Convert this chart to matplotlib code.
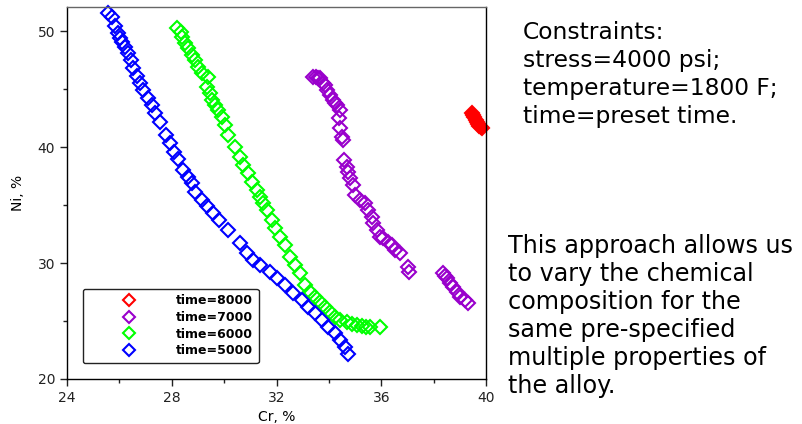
import numpy as np
import matplotlib
matplotlib.use("Agg")
import matplotlib.pyplot as plt

# Cr / Ni compositions satisfying the same property targets for each preset time
cr_8000 = [39.45, 39.50, 39.55, 39.60, 39.65, 39.70, 39.75, 39.80, 39.85]
ni_8000 = [42.95, 42.75, 42.55, 42.35, 42.15, 41.95, 41.80, 41.70, 41.60]

cr_7000 = [33.39, 33.50, 33.60, 33.66, 33.77, 33.85, 33.93, 34.04, 34.16, 34.23,
           34.31, 34.42, 34.39, 34.42, 34.50, 34.54,
           34.58, 34.69, 34.73, 34.81, 34.92, 35.00, 35.19, 35.38, 35.49, 35.65,
           35.68, 35.84, 35.95, 36.07, 36.26, 36.41, 36.52, 36.71, 37.02, 37.06,
           38.36, 38.45, 38.51, 38.62, 38.74, 38.89, 39.01, 39.20, 39.31]
ni_7000 = [46.03, 46.05, 45.98, 45.95, 45.52, 45.34, 44.91, 44.48, 44.05, 43.79,
           43.62, 43.19, 42.50, 41.64, 40.86, 40.60,
           38.88, 38.28, 37.84, 37.33, 36.72, 35.86, 35.43, 35.17, 34.57, 33.97,
           33.45, 32.84, 32.24, 32.16, 31.81, 31.55, 31.12, 30.86, 29.66, 29.22,
           29.14, 28.90, 28.71, 28.28, 27.93, 27.50, 27.07, 26.81, 26.55]

cr_6000 = [28.20, 28.35, 28.39, 28.51, 28.62, 28.77, 28.89, 29.00, 29.15, 29.38,
           29.35, 29.46, 29.54, 29.65, 29.77, 29.92, 30.03, 30.15, 30.41, 30.61,
           30.72, 30.91, 31.06, 31.25, 31.37, 31.48, 31.64, 31.83, 31.94, 32.13,
           32.32, 32.51, 32.71, 32.90, 33.09, 33.28, 33.47, 33.66, 33.85, 34.04,
           34.23, 34.42, 34.69, 34.88, 35.07, 35.26, 35.42, 35.57, 35.95]
ni_6000 = [50.30, 49.91, 49.48, 48.97, 48.53, 47.93, 47.50, 46.90, 46.38, 46.03,
           45.17, 44.66, 44.05, 43.62, 43.19, 42.59, 41.90, 41.03, 40.00, 39.14,
           38.45, 37.76, 36.98, 36.29, 35.69, 35.17, 34.57, 33.71, 33.02, 32.24,
           31.55, 30.52, 29.83, 29.14, 28.10, 27.50, 27.07, 26.64, 26.21, 25.78,
           25.34, 25.09, 24.91, 24.74, 24.66, 24.57, 24.48, 24.48, 24.48]

cr_5000 = [25.57, 25.72, 25.83, 25.95, 26.02, 26.10, 26.21, 26.33, 26.44, 26.52,
           26.67, 26.79, 26.90, 27.09, 27.25, 27.36, 27.55,
           27.78, 27.93, 28.09, 28.24, 28.43, 28.62, 28.77, 28.89, 29.15, 29.35,
           29.57, 29.80, 30.15, 30.61, 30.87, 31.10, 31.37, 31.75, 32.02, 32.32,
           32.63, 32.97, 33.20, 33.47, 33.74, 33.97, 34.23, 34.42, 34.61, 34.73]
ni_5000 = [51.55, 51.21, 50.43, 49.83, 49.40, 49.05, 48.62, 48.10, 47.50, 46.81,
           46.12, 45.52, 44.91, 44.22, 43.62, 42.93, 42.16,
           41.03, 40.34, 39.57, 38.97, 38.02, 37.41, 36.90, 36.12, 35.43, 34.91,
           34.31, 33.71, 32.84, 31.72, 30.86, 30.26, 29.83, 29.22, 28.71, 28.10,
           27.41, 26.81, 26.21, 25.69, 25.09, 24.48, 23.97, 23.36, 22.76, 22.16]

x_ticks = [24, 28, 32, 36, 40]
y_ticks = [20, 30, 40, 50]

constraints = ["Constraints:",
               "stress=4000 psi;",
               "temperature=1800 F;",
               "time=preset time."]
note = ["This approach allows us",
        "to vary the chemical",
        "composition for the",
        "same pre-specified",
        "multiple properties of",
        "the alloy."]

W, H = 802, 424
fig = plt.figure(figsize=(W / 100, H / 100), dpi=100)
ax = fig.add_axes([67 / W, 45 / H, 419 / W, 372 / H])

series = [
    (cr_8000, ni_8000, "#FF0000", True, "time=8000"),
    (cr_7000, ni_7000, "#9900CC", False, "time=7000"),
    (cr_6000, ni_6000, "#00FF00", False, "time=6000"),
    (cr_5000, ni_5000, "#0000FF", False, "time=5000"),
]
for cr, ni, c, filled, lab in series:
    ax.plot(cr, ni, linestyle="none", marker="D", ms=6.8, mew=1.5,
            mec=c, mfc=c if filled else "none", label=lab, clip_on=False)

ax.set_xlim(24, 40)
ax.set_ylim(20, 52.07)
ax.set_xticks(x_ticks)
ax.set_yticks(y_ticks)
ax.set_xticks([26, 30, 34, 38], minor=True)
ax.set_yticks([25, 35, 45], minor=True)
ax.tick_params(which="major", direction="out", length=5, width=1,
               labelsize=10, colors="#222222")
ax.tick_params(which="minor", direction="out", length=3, width=1,
               colors="#222222")
for s in ax.spines.values():
    s.set_linewidth(1)
ax.spines["top"].set_color("#666666")

ax.set_xlabel("Cr, %", fontsize=10, labelpad=4)
ax.set_ylabel("Ni, %", fontsize=10, labelpad=9)

leg = ax.legend(loc="lower left", bbox_to_anchor=(0.038, 0.043),
                borderaxespad=0, numpoints=1, handlelength=6.4,
                handletextpad=0.6, labelspacing=0.3, borderpad=0.45,
                markerscale=0.85,
                prop={"weight": "bold", "size": 9}, fancybox=True,
                framealpha=1, edgecolor="#222222")
leg.get_frame().set_linewidth(1)
# legend keys are drawn as open diamonds
for h in leg.legend_handles:
    h.set_markerfacecolor("none")

for i, line in enumerate(constraints):
    fig.text(523 / W, 1 - (39 + 28 * i) / H, line, fontsize=16.8,
             va="baseline", ha="left")
for i, line in enumerate(note):
    fig.text(508 / W, 1 - (253 + 28 * i) / H, line, fontsize=17.2,
             va="baseline", ha="left")

fig.savefig("out.png", dpi=100)
